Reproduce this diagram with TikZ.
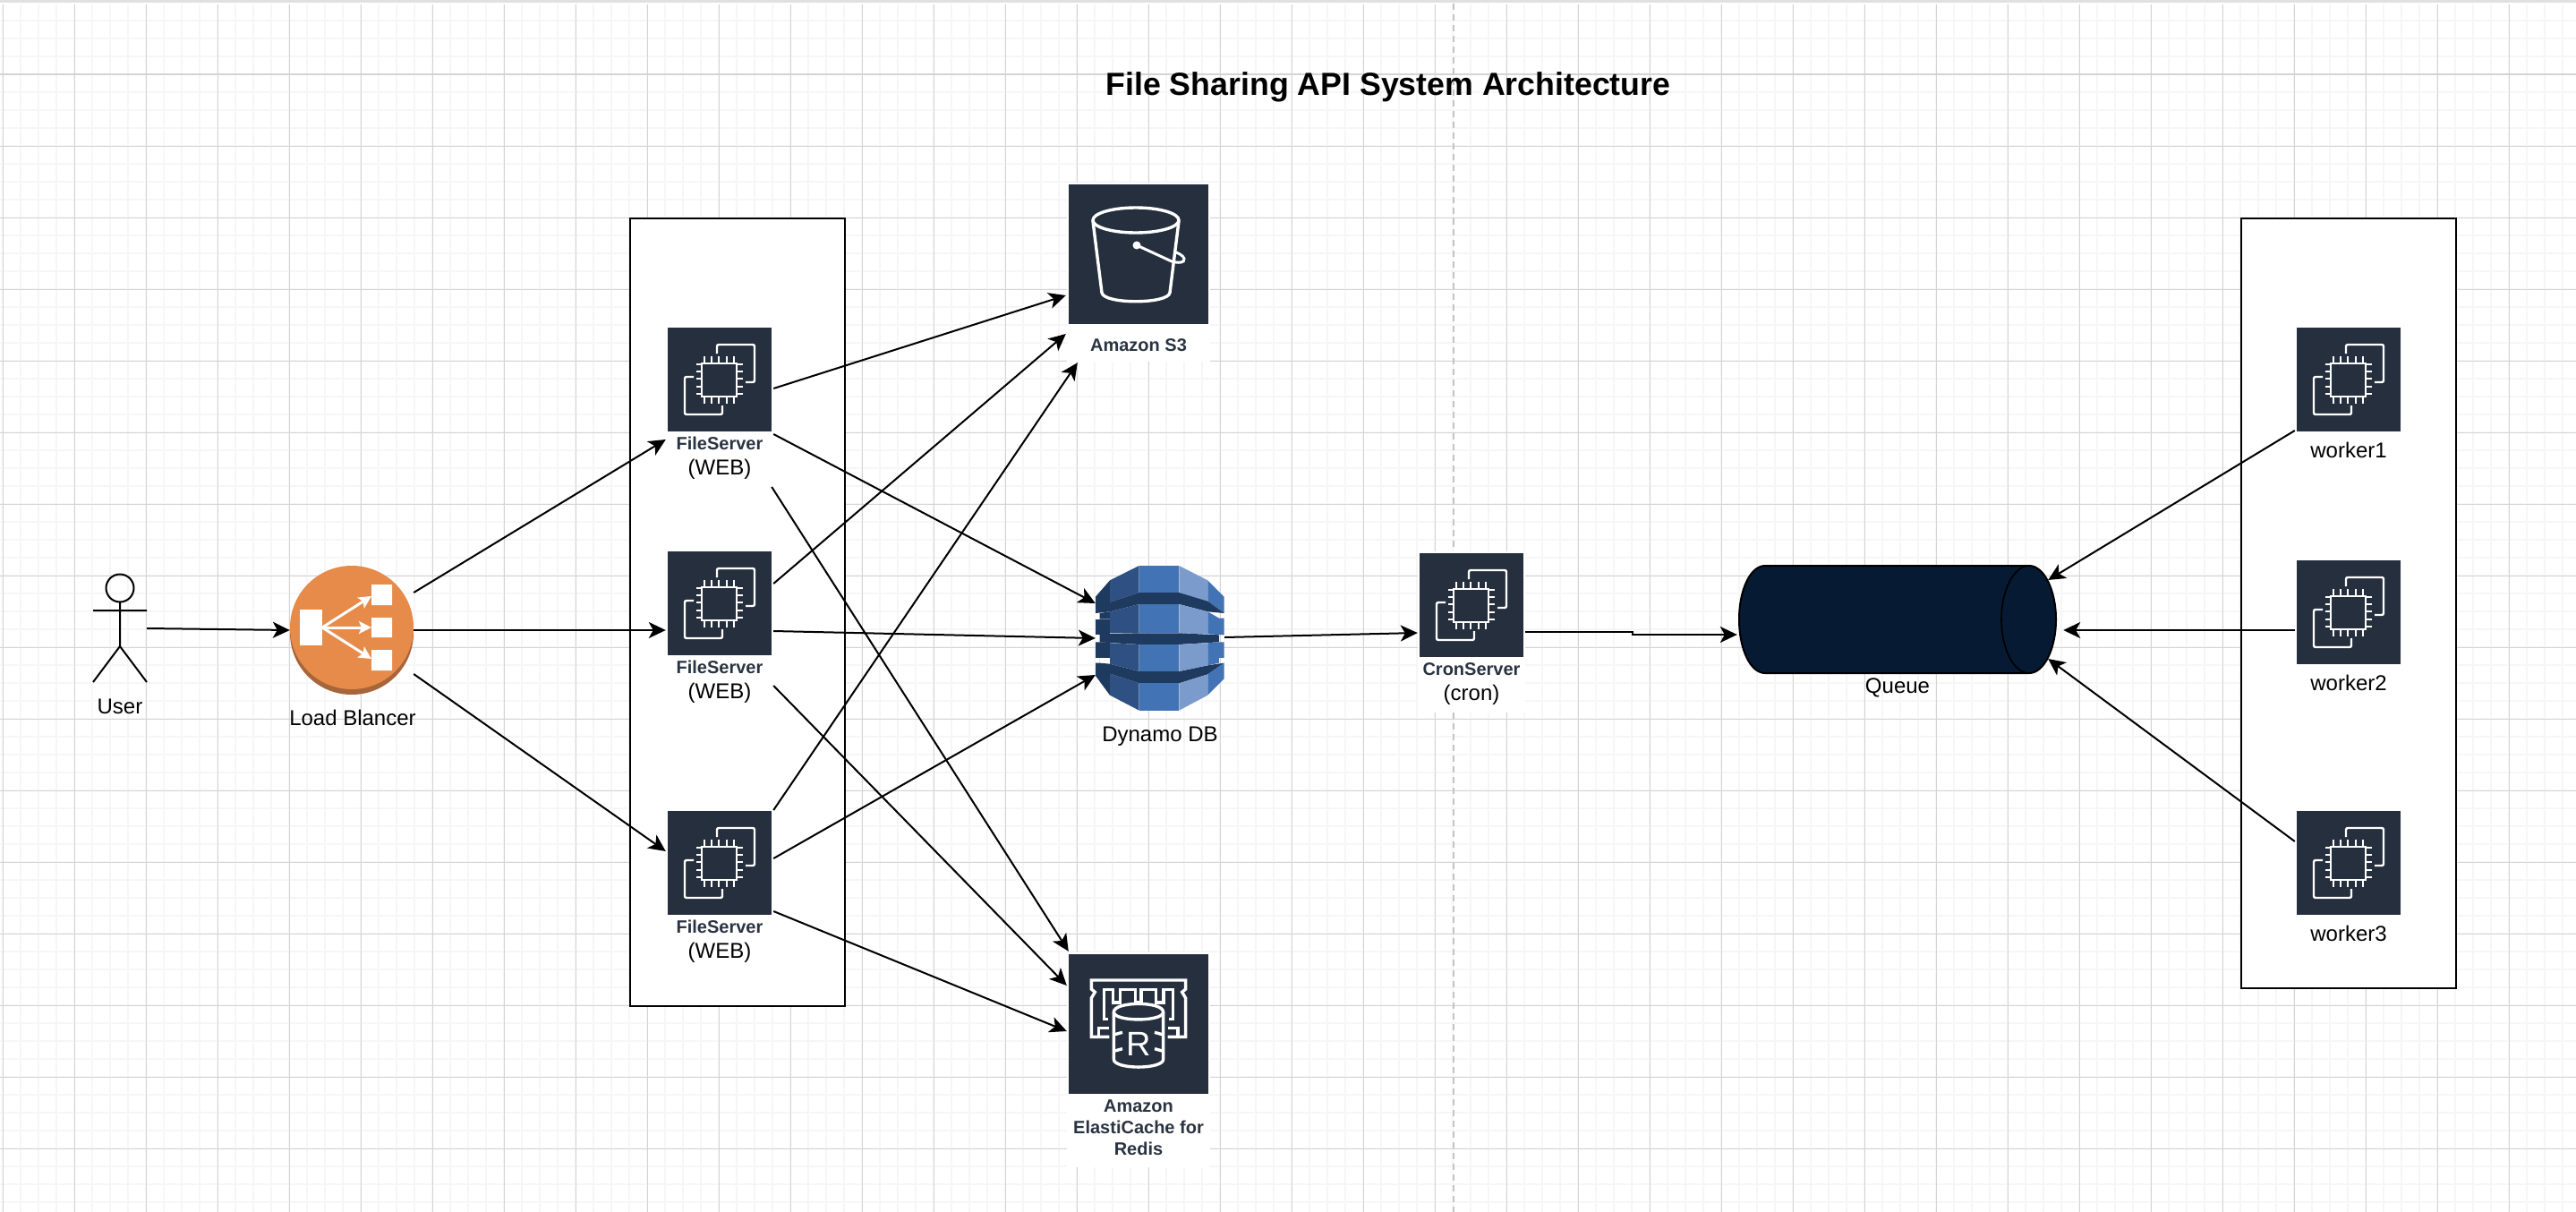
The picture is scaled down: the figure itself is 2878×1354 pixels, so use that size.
\documentclass[tikz,border=0pt]{standalone}
\usepackage{fontspec}
\setmainfont{Liberation Sans}
\usetikzlibrary{positioning,arrows.meta}
\definecolor{awsnavy}{HTML}{262F3E}
\definecolor{awslabel}{HTML}{2A3342}
\definecolor{gridminor}{HTML}{F6F6F6}
\definecolor{gridmajor}{HTML}{D4D4D4}
\definecolor{dashgrey}{HTML}{C4C4C4}
\definecolor{elborange}{HTML}{E68B49}
\definecolor{elbshade}{HTML}{A7653A}
\definecolor{queuefill}{HTML}{061A33}
\definecolor{dynband}{HTML}{1F3A5F}
\definecolor{dynmid}{HTML}{2E5082}
\definecolor{dynblue}{HTML}{4273B5}
\definecolor{dynlight}{HTML}{7A9BCB}
\tikzset{
  wire/.style={-{Stealth[length=19pt,width=18pt,inset=5pt]},line width=2pt,black},
  ec2box/.style={fill=awsnavy,minimum size=116pt,inner sep=0pt},
  bigbox/.style={fill=awsnavy,minimum size=156pt,inner sep=0pt},
  holder/.style={draw=black,line width=2.4pt,fill=white},
  plainlbl/.style={inner sep=0pt,font=\fontsize{24}{28}\selectfont},
  awslbl/.style={inner sep=0pt,align=center,text=awslabel,font=\fontsize{20}{24}\selectfont\bfseries},
  ec2chip/.pic={
    \draw[white,line width=2.4pt] (-20,-18) rectangle (19,19);
    \foreach \p in {-17,-9,-1,8,16} {
      \draw[white,line width=2.2pt] (\p,-26) -- (\p,-18) (\p,19) -- (\p,27);
      \draw[white,line width=2.2pt] (-26,\p) -- (-20,\p) (19,\p) -- (26,\p);
    }
    \draw[white,line width=2.4pt,rounded corners=2pt] (-3,-29) -- (-3,-39) -- (39,-39) -- (39,3) -- (29,3);
    \draw[white,line width=2.4pt,rounded corners=2pt] (-29,-3) -- (-39,-3) -- (-39,39) -- (3,39) -- (3,29);
  }
}
\begin{document}
\begin{tikzpicture}[x=1pt,y=-1pt,>=Stealth]
  \useasboundingbox (0,0) rectangle (2878,1354);
  \fill[white] (0,0) rectangle (2878,1354);
  \foreach \gx in {3,23,...,2878} \draw[gridminor,line width=2pt] (\gx,5) -- (\gx,1354);
  \foreach \gy in {23,43,...,1354} \draw[gridminor,line width=2pt] (0,\gy) -- (2878,\gy);
  \foreach \gx in {3,83,...,2878} \draw[gridmajor,line width=1pt] (\gx,5) -- (\gx,1354);
  \foreach \gy in {83,163,...,1354} \draw[gridmajor,line width=1pt] (0,\gy) -- (2878,\gy);
  \fill[black!12] (0,0) rectangle (2878,3);
  \draw[dashgrey,line width=2pt,dash pattern=on 7pt off 5pt] (1624,4) -- (1624,1354);

  \node[inner sep=0pt,font=\fontsize{35.7}{42}\selectfont\bfseries] (title) at (1551,97) {File Sharing API System Architecture};

  \fill[white] (1192,204) rectangle (1352,404);
  \fill[white] (1192,1064) rectangle (1352,1304);
  \fill[white] (1584,616) rectangle (1704,796);
  \draw[holder] (704,244) rectangle (944,1124);
  \draw[holder] (2504,244) rectangle (2744,1104);

  \node[minimum width=60pt,minimum height=120pt,inner sep=0pt] (user) at (134,702) {};
  \draw[line width=2pt] (134,657) circle (15.5);
  \draw[line width=2pt] (134,672.5) -- (134,722) (104,682) -- (164,682) (104,762) -- (134,722) -- (164,762);
  \node[plainlbl,below=19pt of user] (userlbl) {User};

  \fill[elbshade] (393,707) circle (69);
  \node[circle,fill=elborange,minimum size=138pt,inner sep=0pt] (lb) at (393,701) {};
  \fill[white] (335,681) rectangle (360,721);
  \fill[white] (415,653) rectangle (438,676) (415,690) rectangle (438,712) (415,726) rectangle (438,749);
  \foreach \ty in {666,701,736}
    \draw[white,line width=3pt,-{Stealth[length=14pt,width=14pt,inset=3pt]}] (360,701) -- (415,\ty);
  \node[plainlbl,below=23pt of lb,xshift=1pt] (lblbl) {Load Blancer};

  \node[ec2box] (fs1) at (804,424) {};
  \node[ec2box] (fs2) at (804,674) {};
  \node[ec2box] (fs3) at (804,964) {};
  \node[ec2box] (cron) at (1644,676) {};
  \node[ec2box] (w1) at (2624,424) {};
  \node[ec2box] (w2) at (2624,684) {};
  \node[ec2box] (w3) at (2624,964) {};
  \foreach \n in {fs1,fs2,fs3,cron,w1,w2,w3} \pic at (\n) {ec2chip};

  \node[awslbl,below=6pt of fs1] (fs1lbl) {FileServer};
  \node[plainlbl,below=10pt of fs1lbl] (fs1web) {(WEB)};
  \node[awslbl,below=6pt of fs2] (fs2lbl) {FileServer};
  \node[plainlbl,below=10pt of fs2lbl] (fs2web) {(WEB)};
  \node[awslbl,below=6pt of fs3] (fs3lbl) {FileServer};
  \node[plainlbl,below=10pt of fs3lbl] (fs3web) {(WEB)};
  \node[awslbl,below=6pt of cron] (cronlbl) {CronServer};
  \node[plainlbl,below=10pt of cronlbl] (cronsub) {(cron)};
  \node[plainlbl,below=12pt of w1] (w1lbl) {worker1};
  \node[plainlbl,below=12pt of w2] (w2lbl) {worker2};
  \node[plainlbl,below=12pt of w3] (w3lbl) {worker3};

  \node[bigbox] (s3) at (1272,284) {};
  \draw[white,line width=3.4pt] (1269,246) ellipse (48 and 14);
  \draw[white,line width=3.4pt] (1221,247) -- (1231,327) .. controls (1233,340) and (1305,340) .. (1307,327) -- (1317,247);
  \fill[white] (1270,274) circle (4.5);
  \draw[white,line width=3pt] (1270,274) -- (1309,292) .. controls (1316,294) and (1324,294) .. (1323,289) .. controls (1322,285) and (1316,283) .. (1312,281);
  \node[awslbl,below=16pt of s3] (s3lbl) {Amazon S3};

  \node[minimum width=144pt,minimum height=162pt,inner sep=0pt] (dyn) at (1296,713) {};
  \begin{scope}[shift={(1200,620)},x=.3333pt,y=-.3333pt]
    \fill[dynband] (72,140) -- (120,85) -- (120,190) -- (72,195) -- cycle;
    \fill[dynmid] (120,85) -- (218,36) -- (218,126) -- (120,158) -- cycle;
    \fill[dynblue] (218,36) -- (352,36) -- (352,126) -- (218,126) -- cycle;
    \fill[dynlight] (352,36) -- (448,85) -- (448,155) -- (352,126) -- cycle;
    \fill[dynblue] (448,85) -- (503,140) -- (503,195) -- (448,155) -- cycle;
    \fill[dynband] (120,158) -- (218,126) -- (352,126) -- (448,155) -- (503,195) -- (448,190) -- (352,165) -- (218,165) -- (120,190) -- cycle;
    \fill[dynband] (86,195) -- (120,190) -- (120,215) -- (86,215) -- cycle;
    \fill[dynband] (72,215) -- (120,215) -- (120,268) -- (72,268) -- cycle;
    \fill[dynmid] (120,190) -- (218,165) -- (218,262) -- (120,262) -- cycle;
    \fill[dynblue] (218,165) -- (352,165) -- (352,262) -- (218,262) -- cycle;
    \fill[dynlight] (352,165) -- (448,190) -- (448,265) -- (352,262) -- cycle;
    \fill[dynblue] (448,190) -- (486,212) -- (503,212) -- (503,268) -- (448,265) -- cycle;
    \fill[dynband] (86,265) -- (218,262) -- (352,262) -- (486,268) -- (486,292) -- (352,300) -- (218,300) -- (86,292) -- cycle;
    \fill[dynband] (72,292) -- (120,292) -- (120,345) -- (86,345) -- (86,362) -- (120,365) -- (218,390) -- (352,390) -- (448,370) -- (503,362) -- (448,400) -- (352,430) -- (218,430) -- (120,398) -- (120,470) -- (72,405) -- (72,362) -- (86,362) -- (86,345) -- (72,345) -- cycle;
    \fill[dynmid] (120,295) -- (218,300) -- (218,390) -- (120,365) -- cycle;
    \fill[dynblue] (218,300) -- (352,300) -- (352,390) -- (218,390) -- cycle;
    \fill[dynlight] (352,300) -- (448,295) -- (448,370) -- (352,390) -- cycle;
    \fill[dynblue] (448,295) -- (486,292) -- (503,292) -- (503,345) -- (486,345) -- (486,362) -- (448,370) -- cycle;
    \fill[dynmid] (120,398) -- (218,430) -- (218,521) -- (120,470) -- cycle;
    \fill[dynblue] (218,430) -- (352,430) -- (352,521) -- (218,521) -- cycle;
    \fill[dynlight] (352,430) -- (448,400) -- (448,470) -- (352,521) -- cycle;
    \fill[dynblue] (448,400) -- (503,362) -- (503,415) -- (448,470) -- cycle;
  \end{scope}
  \node[plainlbl,below=18pt of dyn] (dynlbl) {Dynamo DB};

  \node[bigbox] (ec) at (1272,1144) {};
  \begin{scope}[shift={(1150,1040)},x=.3333pt,y=-.3333pt,white,line width=3.4pt]
    \draw (268,355) -- (208,355) -- (208,225) -- (220,205) -- (208,195) -- (208,165) -- (524,165) -- (524,195) -- (512,205) -- (524,225) -- (524,355) -- (464,355);
    \draw (265,295) -- (250,295) -- (250,197) -- (280,197) -- (280,240) -- (305,240) -- (305,197) -- (355,197) -- (355,240) -- (375,240) -- (375,197) -- (425,197) -- (425,240) -- (450,240) -- (450,197) -- (482,197) -- (482,295) -- (467,295);
    \draw (232,350) -- (232,325) -- (268,325) (464,325) -- (498,325) -- (498,350);
    \draw[fill=awsnavy] (283,272) -- (283,430) .. controls (283,465) and (449,465) .. (449,430) -- (449,272) .. controls (449,235) and (283,235) .. (283,272) -- cycle;
    \draw (283,272) .. controls (283,305) and (449,305) .. (449,272);
    \draw (283,348) -- (312,340) (283,403) -- (312,395) (449,348) -- (420,340) (449,403) -- (420,395);
  \end{scope}
  \node[inner sep=0pt,text=white,font=\fontsize{38}{38}\selectfont] (ecr) at (1272,1166) {R};
  \node[awslbl,below=6pt of ec] (eclbl) {Amazon\\ElastiCache for\\Redis};

  \node[minimum width=354pt,minimum height=120pt,inner sep=0pt] (q) at (2120,692) {};
  \draw[fill=queuefill,line width=2pt] (1972,632) -- (2267,632) .. controls (2283.5,632) and (2297,659) .. (2297,692) .. controls (2297,725) and (2283.5,752) .. (2267,752) -- (1972,752) .. controls (1955.5,752) and (1943,725) .. (1943,692) .. controls (1943,659) and (1955.5,632) .. (1972,632) -- cycle;
  \draw[line width=1.6pt] (2267,632) .. controls (2250,632) and (2236,659) .. (2236,692) .. controls (2236,725) and (2250,752) .. (2267,752);
  \node[plainlbl,below=5pt of q] (qlbl) {Queue};

  \draw[wire] (user.east) -- ([yshift=-3pt]lb.west);
  \draw[wire] ([yshift=39pt]lb.east) -- ([xshift=-2pt,yshift=-67pt]fs1.west);
  \draw[wire] ([yshift=-3pt]lb.east) -- ([xshift=-2pt,yshift=-30pt]fs2.west);
  \draw[wire] ([yshift=-52pt]lb.east) -- ([xshift=-2pt,yshift=13pt]fs3.west);

  \draw[wire] ([xshift=2pt,yshift=-10pt]fs1.east) -- ([xshift=-3pt,yshift=-46pt]s3.west);
  \draw[wire] ([xshift=2pt,yshift=-61pt]fs1.east) -- ([yshift=39pt]dyn.west);
  \draw[wire] ([yshift=-120pt]fs1.east) -- ([yshift=3pt]ec.north west);
  \draw[wire] ([xshift=2pt,yshift=22pt]fs2.east) -- ([xshift=-3pt,yshift=-89pt]s3.west);
  \draw[wire] ([xshift=2pt,yshift=-31pt]fs2.east) -- (dyn.west);
  \draw[wire] ([xshift=2pt,yshift=-92pt]fs2.east) -- ([xshift=-2pt,yshift=43pt]ec.west);
  \draw[wire] ([xshift=2pt,yshift=59pt]fs3.east) -- ([xshift=10pt,yshift=-43pt]s3.south west);
  \draw[wire] ([xshift=2pt,yshift=5pt]fs3.east) -- ([yshift=-41pt]dyn.west);
  \draw[wire] ([xshift=2pt,yshift=-54pt]fs3.east) -- ([xshift=-2pt,yshift=-8pt]ec.west);

  \draw[wire] ([yshift=1pt]dyn.east) -- ([xshift=-2pt,yshift=-31pt]cron.west);
  \coordinate (qbend) at (1824,709);
  \draw[wire] ([xshift=2pt,yshift=-30pt]cron.east) -| (qbend) -- ([xshift=-2pt,yshift=-17pt]q.west);
  \draw[wire] ([xshift=-2pt,yshift=-57pt]w1.west) -- ([xshift=-9pt,yshift=44pt]q.east);
  \draw[wire] ([xshift=-2pt,yshift=-20pt]w2.west) -- ([xshift=8pt,yshift=-12pt]q.east);
  \draw[wire] ([xshift=-2pt,yshift=24pt]w3.west) -- ([xshift=-9pt,yshift=-44pt]q.east);
\end{tikzpicture}
\end{document}
